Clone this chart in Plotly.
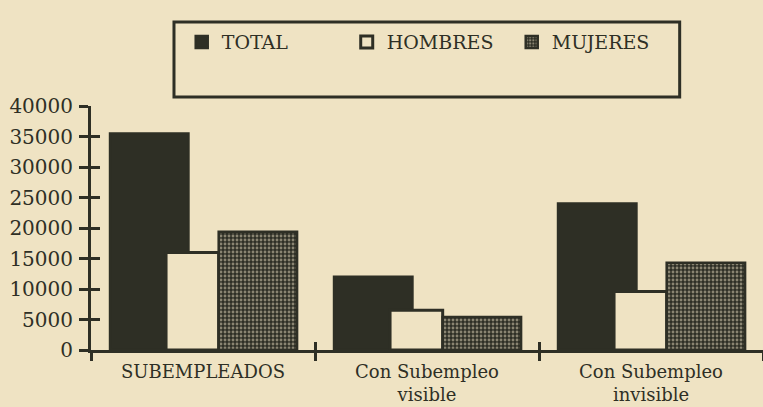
import plotly.graph_objects as go

# data
categorias = ["SUBEMPLEADOS", "Con Subempleo<br>visible", "Con Subempleo<br>invisible"]
total = [35500, 12000, 24000]
hombres = [16000, 6500, 9600]
mujeres = [19400, 5400, 14300]
y_ticks = [0, 5000, 10000, 15000, 20000, 25000, 30000, 35000, 40000]
y_tick_text = [str(v) for v in y_ticks]

paper = "#efe3c3"
ink = "#2e2f25"
font_serif = "DejaVu Serif"

fig = go.Figure()

fig.add_trace(go.Bar(
    x=categorias, y=total, name="TOTAL",
    offset=-0.415, width=0.35,
    marker=dict(color=ink, line=dict(color=ink, width=2.5)),
))
fig.add_trace(go.Bar(
    x=categorias, y=hombres, name="HOMBRES",
    offset=-0.165, width=0.235,
    marker=dict(color=paper, line=dict(color=ink, width=3)),
))
fig.add_trace(go.Bar(
    x=categorias, y=mujeres, name="MUJERES",
    offset=0.07, width=0.35,
    marker=dict(color=ink, line=dict(color=ink, width=2.5),
                pattern=dict(shape=".", fgcolor="#e6dcc0", size=4, solidity=0.4)),
))

# invisible trace so the helper axes (inner tick halves) get drawn
fig.add_trace(go.Scatter(x=[0], y=[0], xaxis="x2", yaxis="y2", mode="markers",
                         marker=dict(opacity=0), showlegend=False, hoverinfo="skip"))

fig.update_layout(
    width=763, height=407,
    paper_bgcolor=paper, plot_bgcolor=paper,
    margin=dict(l=91, r=0, t=106, b=57, autoexpand=False),
    barmode="overlay",
    font=dict(family=font_serif, color=ink),
    showlegend=True,
    legend=dict(orientation="h", x=0.135, y=1.262, xanchor="left", yanchor="middle",
                bgcolor="rgba(0,0,0,0)", font=dict(size=19, family=font_serif, color=ink),
                entrywidth=120, itemwidth=30),
    xaxis=dict(
        type="category", range=[-0.5, 2.5], showgrid=False, automargin=False,
        showline=True, linecolor=ink, linewidth=3,
        ticks="outside", tickson="boundaries", ticklen=8, tickwidth=3, tickcolor=ink,
        tickfont=dict(size=18, family=font_serif, color=ink), ticklabelstandoff=3,
    ),
    xaxis2=dict(
        overlaying="x", anchor="y2", range=[-0.5, 2.5], showgrid=False, showline=False,
        ticks="inside", tickvals=[0.5, 1.5], ticklen=8, tickwidth=3, tickcolor=ink,
        showticklabels=False, zeroline=False, side="bottom",
    ),
    yaxis=dict(
        range=[0, 40000], tickvals=y_ticks, ticktext=y_tick_text,
        showgrid=False, zeroline=False, automargin=False,
        showline=True, linecolor=ink, linewidth=3,
        ticks="outside", ticklen=9, tickwidth=3, tickcolor=ink,
        tickfont=dict(size=20, family=font_serif, color=ink), ticklabelstandoff=2,
    ),
    yaxis2=dict(
        overlaying="y", anchor="x2", range=[0, 40000], tickvals=y_ticks,
        showgrid=False, zeroline=False, showline=False,
        ticks="inside", ticklen=9, tickwidth=3, tickcolor=ink, showticklabels=False,
    ),
    shapes=[dict(type="rect", xref="paper", yref="paper",
                 x0=0.1235, x1=0.876, y0=1.037, y1=1.344,
                 line=dict(color=ink, width=3))],
)

# drop the default page margin so the figure fills the window
fig.write_html("out.html", config={"displayModeBar": False},
               post_script="document.body.style.margin='0';")
